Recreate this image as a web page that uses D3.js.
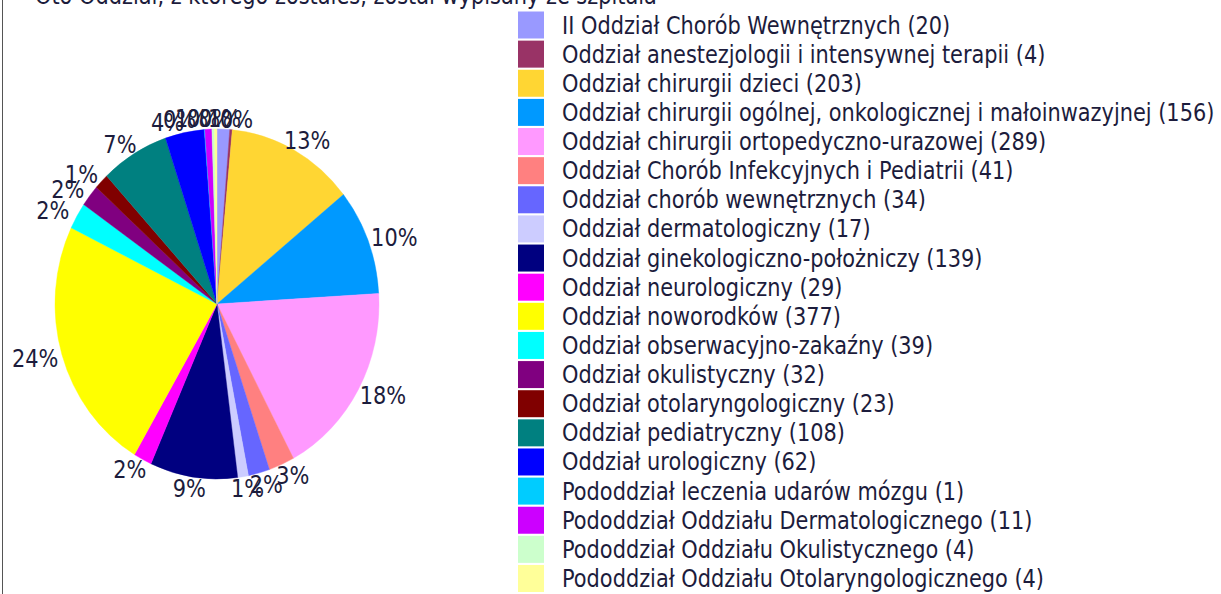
<!DOCTYPE html>
<html>
<head>
<meta charset="utf-8">
<script src="https://cdn.jsdelivr.net/npm/d3@7"></script>
<style>
  body { margin: 0; background: #fff; }
  text { font-family: "DejaVu Sans", Verdana, sans-serif; fill: #1c1c3c; }
</style>
</head>
<body>
<script>
// discharge counts per hospital ward, legend order = pie order (clockwise from 12 o'clock)
var categories = [
  "II Oddział Chorób Wewnętrznych",
  "Oddział anestezjologii i intensywnej terapii",
  "Oddział chirurgii dzieci",
  "Oddział chirurgii ogólnej, onkologicznej i małoinwazyjnej",
  "Oddział chirurgii ortopedyczno-urazowej",
  "Oddział Chorób Infekcyjnych i Pediatrii",
  "Oddział chorób wewnętrznych",
  "Oddział dermatologiczny",
  "Oddział ginekologiczno-położniczy",
  "Oddział neurologiczny",
  "Oddział noworodków",
  "Oddział obserwacyjno-zakaźny",
  "Oddział okulistyczny",
  "Oddział otolaryngologiczny",
  "Oddział pediatryczny",
  "Oddział urologiczny",
  "Pododdział leczenia udarów mózgu",
  "Pododdział Oddziału Dermatologicznego",
  "Pododdział Oddziału Okulistycznego",
  "Pododdział Oddziału Otolaryngologicznego"
];
var values = [20, 4, 203, 156, 289, 41, 34, 17, 139, 29, 377, 39, 32, 23, 108, 62, 1, 11, 4, 4];
var colors = ["#9999ff", "#993366", "#ffd633", "#0099ff", "#ff99ff", "#ff8080", "#6666ff", "#ccccff",
              "#000080", "#ff00ff", "#ffff00", "#00ffff", "#800080", "#800000", "#008080", "#0000ff",
              "#00ccff", "#cc00ff", "#ccffcc", "#ffff99"];
var title = "Oto Oddział, z którego zostałeś, został wypisany ze szpitala";

var width = 1221, height = 594;
var cx = 217, cy = 304, rx = 162, ry = 175;
var fontSize = 25;

var svg = d3.select("body").append("svg")
  .attr("width", width)
  .attr("height", height);

// horizontal squeeze of the text, so the longest legend line fills its space
var probe = svg.append("text")
  .style("font-size", fontSize + "px")
  .text(categories[3] + " (" + values[3] + ")");
var kx = 653 / probe.node().getComputedTextLength();
probe.remove();

svg.append("line")
  .attr("x1", 2.5).attr("x2", 2.5)
  .attr("y1", 0).attr("y2", height)
  .attr("stroke", "#555");

// title is mostly above the top edge in the source picture
svg.append("text")
  .attr("transform", "translate(35,4) scale(" + kx + ",1)")
  .style("font-size", fontSize + "px")
  .text(title);

// pie (slightly taller than wide, like the source picture)
var pie = d3.pie().sort(null).value(function(d) { return d; });
var arc = d3.arc().innerRadius(0).outerRadius(rx);
var arcs = pie(values);
var total = d3.sum(values);
var pct = d3.format(".0%");

var pieG = svg.append("g")
  .attr("transform", "translate(" + cx + "," + cy + ") scale(1," + (ry / rx) + ")");

pieG.selectAll("path")
  .data(arcs)
  .enter()
    .append("path")
    .attr("d", arc)
    .attr("fill", function(d, i) { return colors[i]; })
    .attr("stroke", function(d, i) { return colors[i]; })
    .attr("stroke-width", 0.4);

// label positions, then push the crowded ones at the top sideways
var labels = arcs.map(function(d) {
  var m = (d.startAngle + d.endAngle) / 2;
  return {
    m: m,
    x: cx + (rx + 28) * Math.sin(m),
    y: cy - (ry + 11) * Math.cos(m),
    text: pct(d.value / total)
  };
});
var gap = 12;
var topLabels = labels.filter(function(l) { return Math.cos(l.m) > 0.95; });
var rightTop = topLabels.filter(function(l) { return l.m <= Math.PI; })
  .sort(function(a, b) { return a.m - b.m; });
var leftTop = topLabels.filter(function(l) { return l.m > Math.PI; })
  .sort(function(a, b) { return b.m - a.m; });
for (var i = 1; i < rightTop.length; i++) {
  if (rightTop[i].x < rightTop[i-1].x + gap) rightTop[i].x = rightTop[i-1].x + gap;
}
for (var j = 1; j < leftTop.length; j++) {
  if (leftTop[j].x > leftTop[j-1].x - gap) leftTop[j].x = leftTop[j-1].x - gap;
}

svg.selectAll("g.label")
  .data(labels)
  .enter()
    .append("g")
    .attr("class", "label")
    .attr("transform", function(d) {
      return "translate(" + d.x + "," + d.y + ") scale(" + kx + ",1)";
    })
    .append("text")
    .attr("text-anchor", "middle")
    .attr("dy", "0.36em")
    .style("font-size", fontSize + "px")
    .text(function(d) { return d.text; });

// legend
var y = d3.scaleLinear().domain([0, categories.length - 1]).range([24.5, 578]);

var legend = svg.selectAll("g.legend")
  .data(categories)
  .enter()
    .append("g")
    .attr("class", "legend")
    .attr("transform", function(d, i) { return "translate(0," + y(i) + ")"; });

legend.append("rect")
  .attr("x", 518)
  .attr("y", -13)
  .attr("width", 26)
  .attr("height", 27)
  .attr("fill", function(d, i) { return colors[i]; });

legend.append("text")
  .attr("transform", "translate(562,9) scale(" + kx + ",1)")
  .style("font-size", fontSize + "px")
  .text(function(d, i) { return d + " (" + values[i] + ")"; });
</script>
</body>
</html>
